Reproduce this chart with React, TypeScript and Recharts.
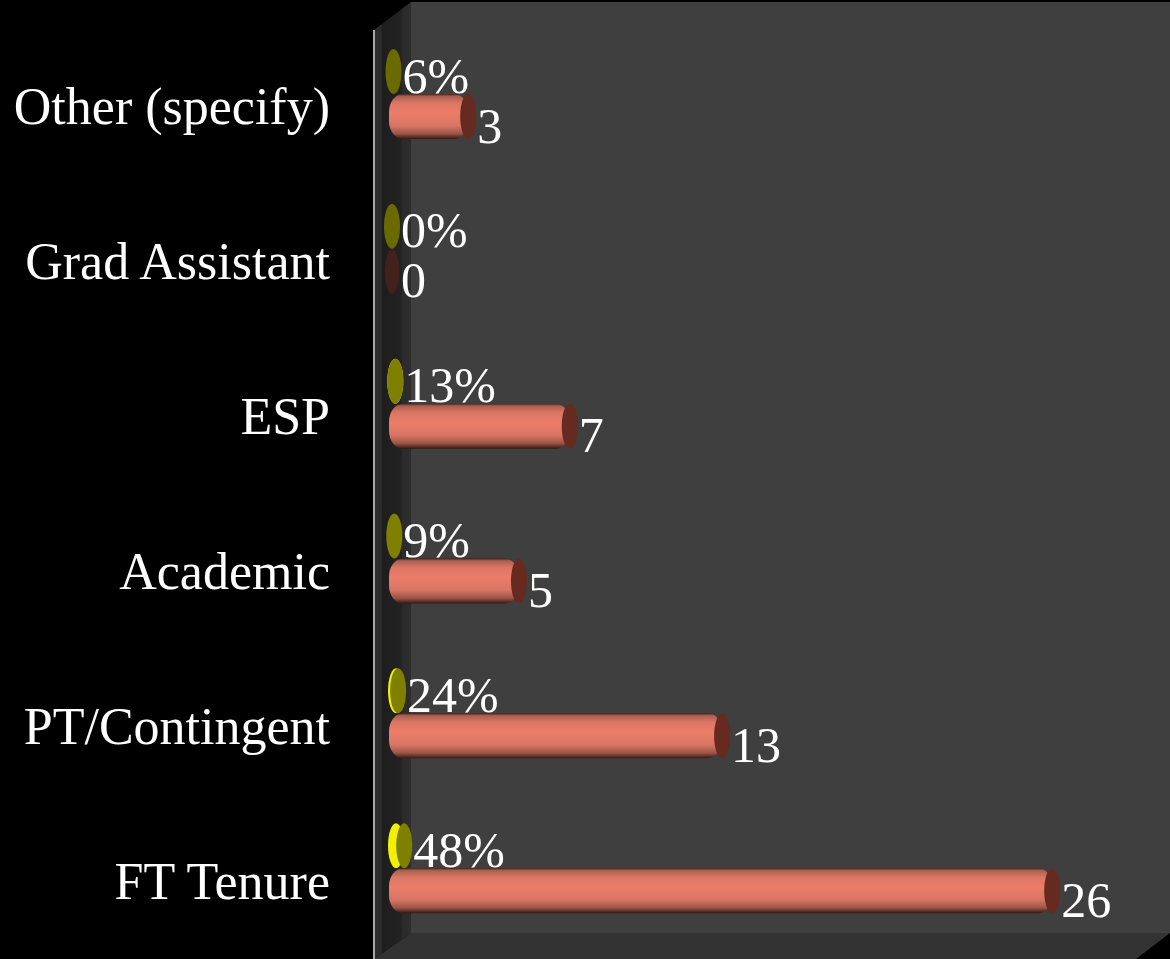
import { BarChart, Bar, XAxis, YAxis, LabelList } from 'recharts';

const categories = ['Other (specify)', 'Grad Assistant', 'ESP', 'Academic', 'PT/Contingent', 'FT Tenure'];
const shares = [0.06, 0, 0.13, 0.09, 0.24, 0.48];
const counts = [3, 0, 7, 5, 13, 26];

const data = categories.map((name, i) => ({ name, share: shares[i], count: counts[i] }));

const FONT = '"Liberation Serif", serif';
const LABEL_SIZE = 50;

// the yellow "bars" are so short that only the two ends of the cylinder show
const ShareBar = ({ x, y, width, height }: any) => {
  const cy = y + height / 2;
  return (
    <g>
      {width > 3 && <ellipse cx={x + Math.min(4, width)} cy={cy} rx={8} ry={height / 2} fill="#f2f200" />}
      <ellipse cx={x + width} cy={cy} rx={8} ry={height / 2} fill={width > 2 ? '#7f7f00' : '#6a6a00'} />
    </g>
  );
};

const CountBar = ({ x, y, width, height }: any) => {
  const cy = y + height / 2;
  if (width === 0) {
    return <ellipse cx={x} cy={cy} rx={7} ry={height / 2} fill="#43211c" />;
  }
  return (
    <g>
      <rect x={x - 3} y={y} width={width + 3} height={height} rx={14} ry={18} fill="url(#cylinder)" />
      <ellipse cx={x + width} cy={cy} rx={8} ry={height / 2} fill="#662a20" />
    </g>
  );
};

const CategoryTick = ({ x, y, payload }: any) => (
  <text x={x} y={y + 30} textAnchor="end" fill="#ffffff" fontSize={52} fontFamily={FONT}>
    {payload.value}
  </text>
);

const makeLabel = (format: (v: number) => string, dy: number) => (props: any) => {
  const { x, y, width, height, value } = props;
  return (
    <text x={x + width + 9} y={y + height / 2 + dy} fill="#ffffff" fontSize={LABEL_SIZE} fontFamily={FONT}>
      {format(Number(value))}
    </text>
  );
};

export default function App() {
  return (
    <div style={{ position: 'absolute', left: 0, top: 0, width: 1170, height: 959, background: '#000', overflow: 'hidden' }}>
      {/* 3D box behind the plot */}
      <svg width={1170} height={959} style={{ position: 'absolute', left: 0, top: 0 }}>
        <defs>
          <linearGradient id="sideWall" x1="0" y1="0" x2="1" y2="0">
            <stop offset="0" stopColor="#2e2e2e" />
            <stop offset="0.2" stopColor="#2a2a2a" />
            <stop offset="0.22" stopColor="#1d1d1d" />
            <stop offset="0.75" stopColor="#232323" />
            <stop offset="0.77" stopColor="#2b2b2b" />
            <stop offset="1" stopColor="#2d2d2d" />
          </linearGradient>
        </defs>
        <rect x={411} y={2} width={759} height={931} fill="#3f3f3f" />
        <polygon points="374,30 411,2 411,933 374,959" fill="url(#sideWall)" />
        <polygon points="411,933 1170,933 1136,959 374,959" fill="#333333" />
        <rect x={373} y={30} width={2} height={929} fill="#a6a6a6" />
      </svg>
      <div style={{ position: 'absolute', left: 0, top: 0 }}>
        <BarChart
          width={1170}
          height={959}
          data={data}
          layout="vertical"
          margin={{ top: 17, right: 0, bottom: 13, left: 0 }}
          barCategoryGap={0}
          barGap={0}
          barSize={45}
        >
          <defs>
            <linearGradient id="cylinder" x1="0" y1="0" x2="0" y2="1">
              <stop offset="0" stopColor="#4a231c" />
              <stop offset="0.05" stopColor="#a85f50" />
              <stop offset="0.2" stopColor="#dc7664" />
              <stop offset="0.42" stopColor="#ec7d69" />
              <stop offset="0.7" stopColor="#d97563" />
              <stop offset="0.88" stopColor="#9c5546" />
              <stop offset="1" stopColor="#351915" />
            </linearGradient>
          </defs>
          <XAxis type="number" hide domain={[0, 30.64]} />
          <YAxis
            type="category"
            dataKey="name"
            width={392}
            axisLine={false}
            tickLine={false}
            tickSize={0}
            tickMargin={62}
            interval={0}
            tick={<CategoryTick />}
          />
          <Bar dataKey="share" shape={<ShareBar />} isAnimationActive={false}>
            <LabelList dataKey="share" content={makeLabel((v) => `${Math.round(v * 100)}%`, 21)} />
          </Bar>
          <Bar dataKey="count" shape={<CountBar />} isAnimationActive={false}>
            <LabelList dataKey="count" content={makeLabel((v) => `${v}`, 26)} />
          </Bar>
        </BarChart>
      </div>
    </div>
  );
}
